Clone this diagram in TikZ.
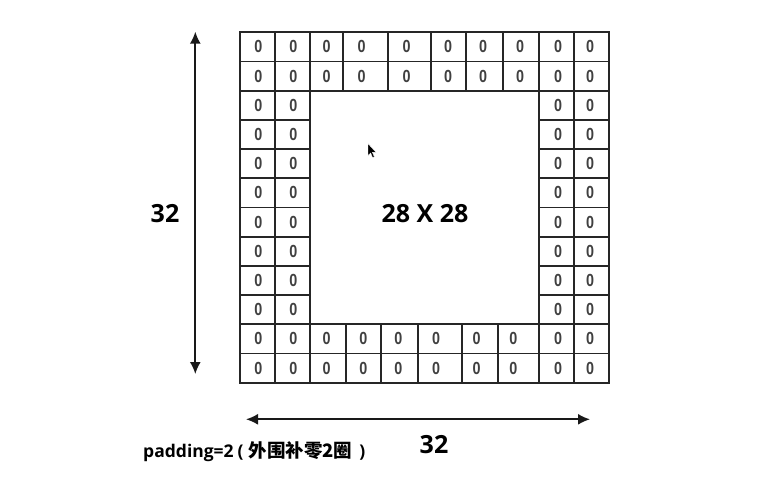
\documentclass[tikz,border=0pt]{standalone}
\usepackage{fontspec}
\setmainfont{Liberation Sans}
\newfontfamily\lbl{Open Sans}
\newfontfamily\cjk{Noto Sans CJK SC}
\usetikzlibrary{arrows.meta}
\newcommand{\zz}{\scalebox{0.82}[1]{0}}
\begin{document}
\begin{tikzpicture}[x=1pt,y=-1pt,
  gridline/.style={line width=1.7pt, draw=black!85},
  zero/.style={font=\bfseries\fontsize{17.5}{17.5}\selectfont, text=black!75, inner sep=0pt},
  dimarrow/.style={line width=1.7pt, draw=black!90, {Latex[length=12pt,width=11pt]}-{Latex[length=12pt,width=11pt]}},
  big/.style={font=\lbl\bfseries\fontsize{25}{25}\selectfont, inner sep=0pt},
  note/.style={font=\lbl\bfseries\fontsize{17.5}{17.5}\selectfont, inner sep=0pt}]
\useasboundingbox (0,0) rectangle (771,480);
\fill[white] (0,0) rectangle (771,480);
% horizontal grid lines
\foreach \i in {0,1,2,10,11,12}{
  \draw[gridline] (240,{32.3+29.2*\i}) -- (609.3,{32.3+29.2*\i});
}
\foreach \i in {3,...,9}{
  \draw[gridline] (240,{32.3+29.2*\i}) -- (310,{32.3+29.2*\i});
  \draw[gridline] (539.3,{32.3+29.2*\i}) -- (609.3,{32.3+29.2*\i});
}
% vertical grid lines
\foreach \x in {240,275,310,539.3,574.3,609.3}{
  \draw[gridline] (\x,32.3) -- (\x,382.7);
}
\foreach \x in {343.3,388.3,431,465.7,503.3}{
  \draw[gridline] (\x,32.3) -- (\x,90.7);
}
\foreach \x in {346,381,418.3,462.3,498.3}{
  \draw[gridline] (\x,324.3) -- (\x,382.7);
}
\draw[gridline, line cap=rect] (240,32.3) rectangle (609.3,382.7);
% zeros
\foreach \r in {0,1}{
  \foreach \x [count=\c] in {258.3,293.3,326.7,361.7,406.7,448,483,520,558,590}{
    \node[zero] (z\r-\c) at (\x,{32.3+29.2*(\r+0.5)}) {\zz};
  }
}
\foreach \r in {10,11}{
  \foreach \x [count=\c] in {258.3,293.3,326.7,363.3,398.3,436,476.7,513.3,558,590}{
    \node[zero] (z\r-\c) at (\x,{32.3+29.2*(\r+0.5)}) {\zz};
  }
}
\foreach \r in {2,...,9}{
  \foreach \x [count=\c] in {258.3,293.3,558,590}{
    \node[zero] (z\r-\c) at (\x,{32.3+29.2*(\r+0.5)}) {\zz};
  }
}
% dimension arrows
\coordinate (vt) at (195.3,31.7);
\coordinate (vb) at (195.3,374);
\coordinate (hl) at (246,419.3);
\coordinate (hr) at (590,419.3);
\draw[dimarrow] (vb) -- (vt);
\draw[dimarrow] (hl) -- (hr);
% labels
\node[big] (lh) at (165,213.3) {32};
\node[big] (lw) at (434,445) {32};
\node[big] (inner) at (425,213.3) {28 X 28};
\node[note, anchor=base west] (pad) at (143,457) {padding=2\hspace{4pt}(\hspace{5pt}{\cjk\bfseries\fontsize{18.5}{18.5}\selectfont 外围补零2圈}\hspace{7pt})};
% mouse cursor
\fill[black, draw=white, line width=0.4pt] (368,143.5) -- (368,155.5) -- (370.6,153) -- (372.6,157.6) -- (374.4,156.8) -- (372.4,152.3) -- (376,152.3) -- cycle;
\end{tikzpicture}
\end{document}
